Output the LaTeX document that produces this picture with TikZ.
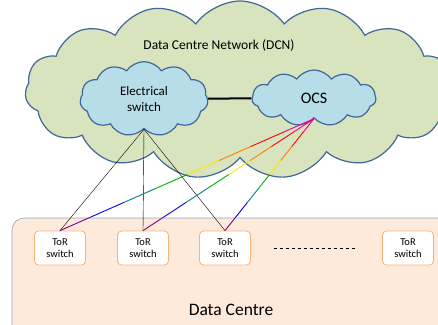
\documentclass[tikz,border=0pt]{standalone}
\usepackage{fontspec}
\setmainfont{Carlito}
\usetikzlibrary{shapes.symbols,calc}

\definecolor{dcngreen}{HTML}{D7E4BD}
\definecolor{swblue}{HTML}{B7DDE8}
\definecolor{edgeblue}{HTML}{41669A}
\definecolor{dcpeach}{HTML}{FDEADA}
\definecolor{dcedge}{HTML}{8EA6C6}
\definecolor{torline}{HTML}{F8B37C}

\begin{document}
\begin{tikzpicture}[x = 1pt, y = -1pt,
	cloudnode/.style = {cloud, draw = edgeblue, line width = 1.2pt, inner sep = 0pt},
	torbox/.style = {draw = torline, fill = white, rounded corners = 4pt, line width = 0.8pt,
		minimum width = 51pt, minimum height = 34pt, align = center, font = \fontsize{10.5}{12.5}\selectfont},
	rainbow/.style = {line width = 0.9pt, line cap = round}
	]

	% Definitions

	\def\Rainbow{magenta, red, orange, yellow!90!orange, green!70!black, teal, blue, violet}

	% Canvas

	\clip (0, 0) rectangle (438, 324);

	% Data centre

	\node [draw = dcedge, fill = dcpeach, rounded corners = 12pt, minimum width = 460pt, minimum height = 130pt, line width = 0.6pt] (dc) at (242, 283) {};
	\node [font = \fontsize{17.5}{20}\selectfont] (dclabel) at (231, 310) {Data Centre};

	% Network clouds

	\node [cloudnode, fill = dcngreen, cloud puffs = 15, cloud puff arc = 110, minimum width = 430pt, minimum height = 178pt] (dcn) at (240, 90) {};
	\node [font = \fontsize{13.5}{16}\selectfont] (dcnlabel) at (219, 45) {Data Centre Network (DCN)};

	\node [cloudnode, fill = swblue, cloud puffs = 11, cloud puff arc = 110, minimum width = 128pt, minimum height = 56pt, align = center, font = \fontsize{13}{15.5}\selectfont] (elec) at (144, 99) {Electrical\\switch};
	\node [cloudnode, fill = swblue, cloud puffs = 11, cloud puff arc = 110, minimum width = 124pt, minimum height = 56pt, font = \fontsize{16}{18}\selectfont] (ocs) at (314, 98) {OCS};

	\draw [line width = 2pt] (elec) -- (ocs);

	% ToR switches

	\node [torbox] (tor1) at (60, 248) {ToR\\switch};
	\node [torbox] (tor2) at (143, 248) {ToR\\switch};
	\node [torbox] (tor3) at (225, 248) {ToR\\switch};
	\node [torbox] (tor4) at (408, 248) {ToR\\switch};

	\draw [dashed, line width = 0.5pt] (tor3.east) ++ (23, 0) coordinate (dotsl) -- ($(tor4.west) + (-25, 0)$) coordinate (dotsr);

	% Electrical links

	\foreach \t in {tor1, tor2, tor3}
		\draw [line width = 0.4pt] (elec.south) -- (\t.north);

	% Optical links

	\foreach \t in {tor1, tor2, tor3}{
		\foreach \c [count = \i] in \Rainbow {
			\pgfmathsetmacro\a{(\i - 1) / 8}
			\pgfmathsetmacro\b{\i / 8}
			\draw [rainbow, \c] ($(ocs.south)!\a!(\t.north)$) -- ($(ocs.south)!\b!(\t.north)$);
		}
	}

\end{tikzpicture}
\end{document}
